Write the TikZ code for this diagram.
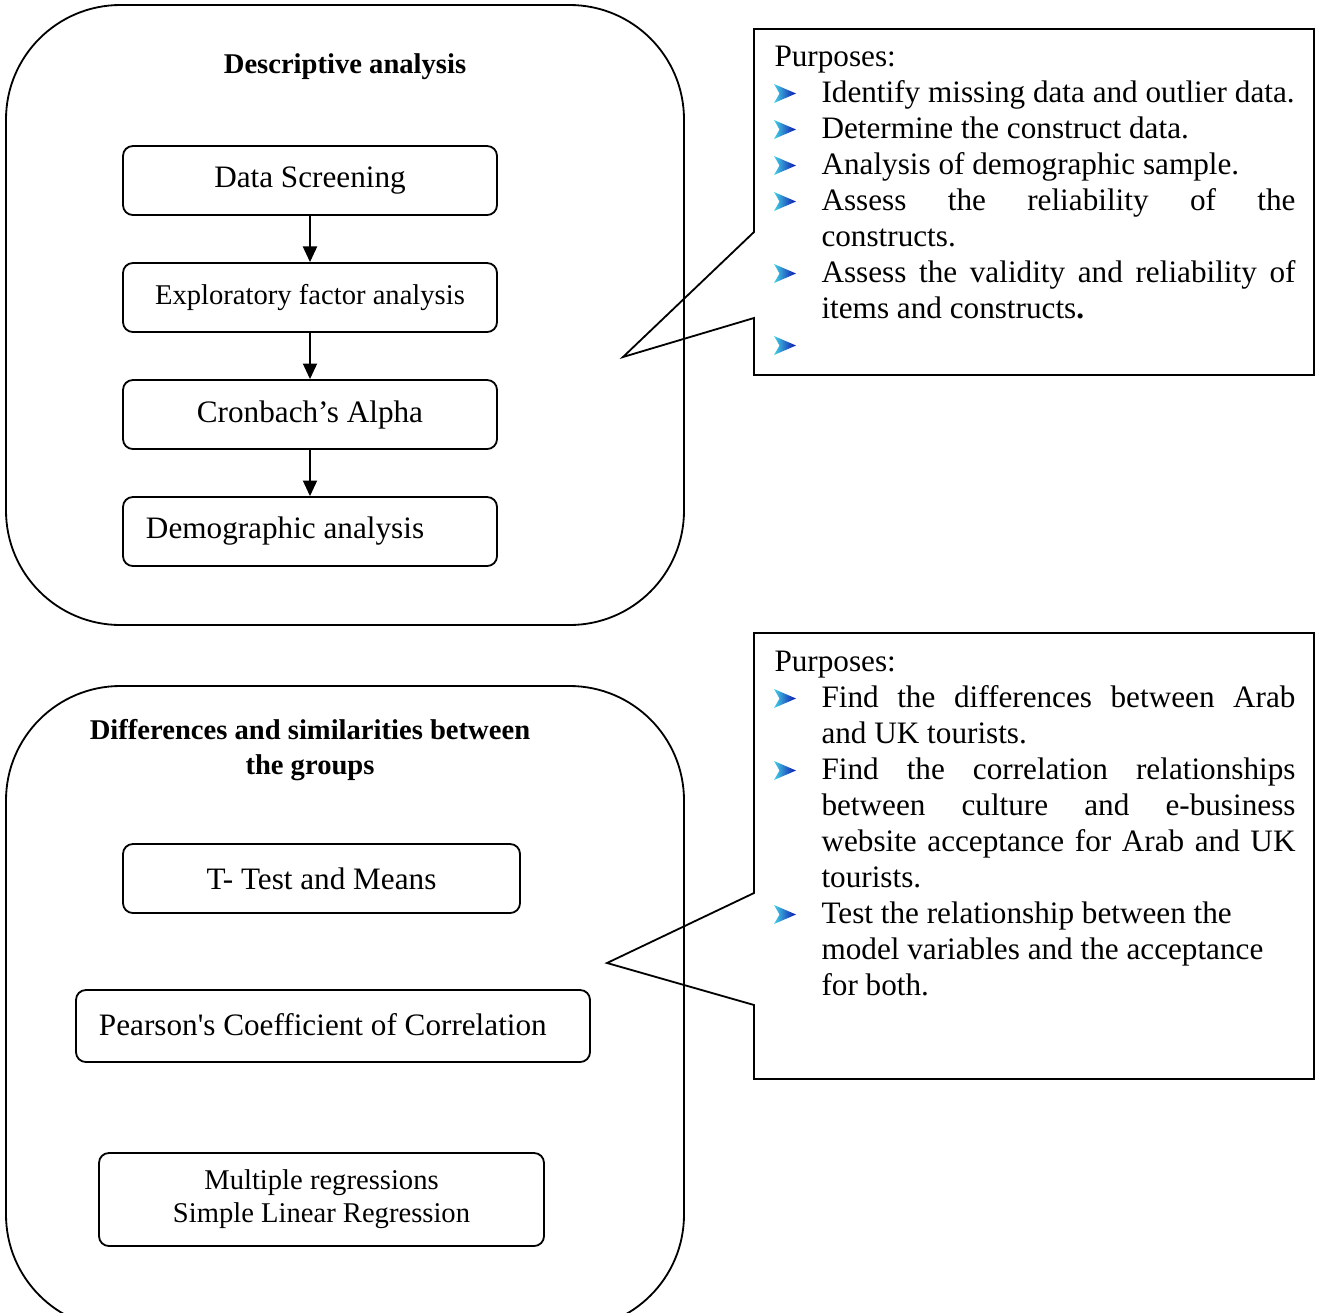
\documentclass[tikz,border=0pt]{standalone}
\usepackage{fontspec}
\setmainfont{Liberation Serif}
\usetikzlibrary{arrows.meta}
\newcommand\pxu{0.3846pt}
\definecolor{bulllight}{RGB}{70,210,230}
\definecolor{bullmid}{RGB}{40,110,215}
\definecolor{bulldark}{RGB}{10,20,175}
\begin{document}
\begin{tikzpicture}[x=0.3846pt,y=-0.3846pt,
  panel/.style={draw, line width=0.7pt, rounded corners=44pt},
  stepbox/.style={draw, line width=0.7pt, rounded corners=3.8pt, inner sep=0pt,
    font=\fontsize{12}{13.8}\selectfont},
  flow/.style={-{Triangle[length=6pt,width=5.4pt]}, line width=0.7pt},
  callout/.style={draw, line width=0.7pt, line join=miter},
  ttl/.style={font=\fontsize{11}{13.5}\selectfont\bfseries, align=center, inner sep=0pt},
  txt/.style={inner sep=0pt, font=\fontsize{12}{13.85}\selectfont},
  bul/.pic={\path[left color=bulllight, middle color=bullmid, right color=bulldark]
    (0,-19) -- (22,-9.5) -- (0,0) -- (5.5,-9.5) -- cycle;}
]
\useasboundingbox (0,0) rectangle (1322,1312);

% ---- upper panel: descriptive analysis ----
\draw[panel] (6,5) rectangle (684,625);
\node[ttl] (t1) at (345,67) {Descriptive analysis};

\node[stepbox, minimum width=374*\pxu, minimum height=69*\pxu] (ds) at (310,180.5) {Data Screening};
\node[stepbox, minimum width=374*\pxu, minimum height=69*\pxu,
      font=\fontsize{11}{13}\selectfont] (efa) at (310,297.5) {Exploratory factor analysis};
\node[stepbox, minimum width=374*\pxu, minimum height=69*\pxu] (ca) at (310,414.5) {Cronbach’s Alpha};
\node[stepbox, minimum width=374*\pxu, minimum height=69*\pxu] (dem) at (310,531.5)
      {\makebox[126.15pt][l]{Demographic analysis}};

\draw[flow] (ds) -- (efa);
\draw[flow] (efa) -- (ca);
\draw[flow] (ca) -- (dem);

% ---- lower panel: group comparisons ----
\begin{scope}
\clip (0,0) rectangle (1322,1312);
\draw[panel] (6,686) rectangle (684,1329);
\end{scope}
\node[ttl] (t2) at (310,750) {Differences and similarities between\\the groups};

\node[stepbox, minimum width=397*\pxu, minimum height=69*\pxu] (tt) at (321.5,878.5) {T- Test and Means};
\node[stepbox, minimum width=514*\pxu, minimum height=72*\pxu] (pc) at (333,1026)
      {\raisebox{1.5pt}{\makebox[180pt][l]{Pearson\textquotesingle s Coefficient of Correlation}}};
\node[stepbox, minimum width=445*\pxu, minimum height=93*\pxu, align=center,
      font=\fontsize{11}{12.7}\selectfont] (mr) at (321.5,1199.5)
      {Multiple regressions\\Simple Linear Regression};

% ---- callout for the upper panel ----
\draw[callout] (754,29) -- (1314,29) -- (1314,375) -- (754,375) -- (754,318)
  -- (623,357) -- (754,232) -- cycle;
\node[txt, anchor=base west] (p1) at (774,66) {Purposes:};
\node[txt, anchor=base west, text width=474*\pxu, align=justify] (l1) at (821,102)
 {\hyphenpenalty=10000
  Identify missing data and outlier data.\par
  Determine the construct data.\par
  Analysis of demographic sample.\par
  Assess the reliability of the\linebreak constructs.\par
  Assess the validity and reliability of\linebreak items and constructs\textbf{.}};
\foreach \yb in {103,139,175,211,283,355} \pic at (774,\yb) {bul};

% ---- callout for the lower panel ----
\draw[callout] (754,633) -- (1314,633) -- (1314,1079) -- (754,1079) -- (754,1005)
  -- (607,963) -- (754,893) -- cycle;
\node[txt, anchor=base west] (p2) at (774,671) {Purposes:};
\node[txt, anchor=base west, text width=474*\pxu, align=justify] (l2) at (821,707)
 {\hyphenpenalty=10000
  Find the differences between Arab\linebreak and UK tourists.\par
  Find the correlation relationships\linebreak between culture and e-business\linebreak
  website acceptance for Arab and UK\linebreak tourists.\par
  Test the relationship between the\newline model variables and the acceptance\newline for both.};
\foreach \yb in {708,780,924} \pic at (774,\yb) {bul};
\end{tikzpicture}
\end{document}
